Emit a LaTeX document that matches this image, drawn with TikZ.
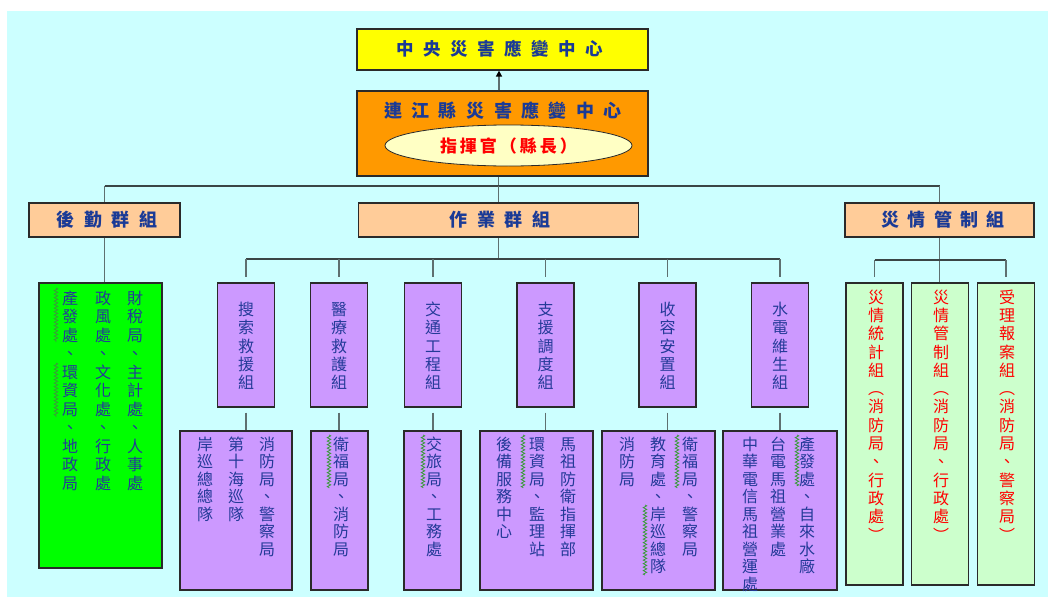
\documentclass[tikz,border=0pt]{standalone}
\usepackage{fontspec}
\newfontfamily\cjk{Noto Sans CJK TC}
\usetikzlibrary{decorations.pathmorphing,shapes.geometric,arrows.meta}
\definecolor{bgc}{HTML}{CCFFFF}
\definecolor{yellowc}{HTML}{FFFF00}
\definecolor{orangec}{HTML}{FF9900}
\definecolor{ellc}{HTML}{FFFFC4}
\definecolor{peachc}{HTML}{FFCC99}
\definecolor{greenc}{HTML}{00FF00}
\definecolor{purplec}{HTML}{CC99FF}
\definecolor{lgreenc}{HTML}{CCFFCC}
\definecolor{headblue}{HTML}{1A3A96}
\definecolor{bodyblue}{HTML}{243A98}
\definecolor{redc}{HTML}{FF0000}
\definecolor{boxline}{HTML}{2A2A2A}
\definecolor{connc}{HTML}{5E7070}
\definecolor{busc}{HTML}{3A4545}
\definecolor{squigc}{HTML}{3A9A3A}
\tikzset{
  box/.style={draw=boxline, line width=1.2pt, inner sep=0pt},
  vch/.style={anchor=base, inner sep=0pt, font=\cjk\fontsize{16}{16}\selectfont, text=bodyblue},
  redch/.style={text=redc},
  head/.style={font=\cjk\bfseries\fontsize{18}{18}\selectfont, text=headblue, inner sep=0pt},
  conn/.style={draw=connc, line width=1.8pt},
  busline/.style={draw=busc, line width=1.2pt},
  squig/.style={draw=squigc, line width=0.7pt, decorate, decoration={zigzag, segment length=3.5pt, amplitude=1.8pt}},
}
\newcommand\vcol[6][]{\foreach \ch [count=\i from 0] in {#6} {\node[vch,#1] (#2-\i) at (#3,{#4+\i*#5+6.1}) {\ch};}}
\newcommand\spread[2]{\foreach \c [count=\j] in {#2}{\ifnum\j>1\hspace{#1}\fi\c}}
\begin{document}
\begin{tikzpicture}[x=1pt,y=-1pt]
\useasboundingbox (0,0) rectangle (1050,597);
\fill[bgc] (7,11) rectangle (1048,597);

% top boxes
\node[box, fill=yellowc, minimum width=291, minimum height=41] (central) at (502.5,49.5) {};
\node[head, font=\cjk\bfseries\fontsize{17.5}{17.5}\selectfont] (centralT) at (500,49) {\spread{9.5pt}{中,央,災,害,應,變,中,心}};
\node[box, fill=orangec, minimum width=291, minimum height=85] (county) at (502.5,133.5) {};
\node[head] (countyT) at (503,111) {\spread{9.5pt}{連,江,縣,災,害,應,變,中,心}};
\node[ellipse, draw=boxline, line width=0.8pt, fill=ellc, minimum width=247, minimum height=41, inner sep=0pt,
      font=\cjk\bfseries\fontsize{17}{17}\selectfont, text=redc] (cmd) at (508.5,145.5) {\spread{3pt}{指,揮,官,（,縣,長,）}};

% group boxes
\node[box, fill=peachc, minimum width=151, minimum height=34] (g1) at (104.5,220) {};
\node[head] (g1T) at (107,219.5) {\spread{9.5pt}{後,勤,群,組}};
\node[box, fill=peachc, minimum width=280, minimum height=34] (g2) at (498.5,220) {};
\node[head] (g2T) at (500,219.5) {\spread{9.5pt}{作,業,群,組}};
\node[box, fill=peachc, minimum width=189, minimum height=34] (g3) at (939.5,220) {};
\node[head] (g3T) at (943,219.5) {\spread{8.5pt}{災,情,管,制,組}};

% logistics box
\node[box, fill=greenc, minimum width=123, minimum height=285] (lg) at (100.5,425.5) {};
% operation upper boxes
\foreach \n/\x in {u1/246,u2/339,u3/433,u4/545.5,u5/667.5,u6/780}
  \node[box, fill=purplec, minimum width=57, minimum height=124] (\n) at (\x,345) {};
% operation lower boxes
\foreach \n/\x/\w in {l1/236/112,l2/339.5/57,l3/432.5/57,l4/536.5/113,l5/658.5/113,l6/780/114}
  \node[box, fill=purplec, minimum width=\w, minimum height=159] (\n) at (\x,510.5) {};
% disaster control boxes
\foreach \n/\x in {r1/874.5,r2/940,r3/1006}
  \node[box, fill=lgreenc, minimum width=57, minimum height=302] (\n) at (\x,434) {};

% connectors
\draw[conn, draw=connc, -{Triangle[length=6pt,width=6pt,color=black]}] ([xshift=-3.5pt]county.north) -- ([xshift=-3.5pt]central.south);
\coordinate (b0) at (498.5,186);
\draw[conn] (county.south -| g2.north) -- (b0);
\draw[busline] (g1.north |- b0) -- (g3.north |- b0);
\draw[conn] (b0) -- (g2.north);
\draw[conn] (g1.north |- b0) -- (g1.north);
\draw[conn] (g3.north |- b0) -- (g3.north);
\draw[conn] (g1.south) -- (g1.south |- lg.north);

\coordinate (b1) at (498.5,259);
\draw[conn] (g2.south) -- (b1);
\draw[busline] (u1.north |- b1) -- (u6.north |- b1);
\foreach \k in {1,...,6}{
  \draw[conn, shorten >=5pt] (u\k.north |- b1) -- (u\k.north);
  \draw[conn, shorten <=5pt] (u\k.south) -- (u\k.south |- l\k.north);
}
\coordinate (b2) at (939.5,260);
\draw[conn] (g3.south) -- (g3.south |- r2.north);
\draw[busline] (r1.north |- b2) -- (r3.north |- b2);
\draw[conn, shorten >=5pt] (r1.north |- b2) -- (r1.north);
\draw[conn, shorten >=5pt] (r3.north |- b2) -- (r3.north);

% logistics text
\vcol{lgA}{135}{298}{18.5}{財,稅,局,、,主,計,處,、,人,事,處}
\vcol{lgB}{103}{298}{18.5}{政,風,處,、,文,化,處,、,行,政,處}
\vcol{lgC}{70}{298}{18.5}{產,發,處,、,環,資,局,、,地,政,局}
\draw[squig] (56,288) -- (56,342);
\draw[squig] (56,363) -- (56,417);

% upper texts
\vcol{u1t}{246}{309.5}{18.3}{搜,索,救,援,組}
\vcol{u2t}{339}{309.5}{18.3}{醫,療,救,護,組}
\vcol{u3t}{433}{309.5}{18.3}{交,通,工,程,組}
\vcol{u4t}{545.5}{309.5}{18.3}{支,援,調,度,組}
\vcol{u5t}{667.5}{309.5}{18.3}{收,容,安,置,組}
\vcol{u6t}{780}{309.5}{18.3}{水,電,維,生,組}

% lower texts
\vcol{l1a}{267}{444}{17.5}{消,防,局,、,警,察,局}
\vcol{l1b}{236}{444}{17.5}{第,十,海,巡,隊}
\vcol{l1c}{205}{444}{17.5}{岸,巡,總,總,隊}
\vcol{l2a}{341}{444}{17.5}{衛,福,局,、,消,防,局}
\draw[squig] (329,435) -- (329,488);
\vcol{l3a}{434}{444}{17.5}{交,旅,局,、,工,務,處}
\draw[squig] (423,435) -- (423,488);
\vcol{l4a}{568}{444}{17.5}{馬,祖,防,衛,指,揮,部}
\vcol{l4b}{537}{444}{17.5}{環,資,局,、,監,理,站}
\vcol{l4c}{504}{444}{17.5}{後,備,服,務,中,心}
\draw[squig] (523,435) -- (523,488);
\vcol{l5a}{690}{444}{17.5}{衛,福,局,、,警,察,局}
\vcol{l5b}{658}{444}{17.5}{教,育,處,、,岸,巡,總,隊}
\vcol{l5c}{627}{444}{17.5}{消,防,局}
\draw[squig] (677,435) -- (677,488);
\draw[squig] (645,505) -- (645,575);
\vcol{l6a}{807}{444}{17.5}{產,發,處,、,自,來,水,廠}
\vcol{l6b}{778}{444}{17.5}{台,電,馬,祖,營,業,處}
\vcol{l6c}{750}{444}{17.5}{中,華,電,信,馬,祖,營,運,處}
\draw[squig] (797,435) -- (797,486);

% disaster control texts
\vcol[redch]{r1t}{876}{297}{18.3}{災,情,統,計,組,︵,消,防,局,、,行,政,處,︶}
\vcol[redch]{r2t}{941}{297}{18.3}{災,情,管,制,組,︵,消,防,局,、,行,政,處,︶}
\vcol[redch]{r3t}{1007}{297}{18.3}{受,理,報,案,組,︵,消,防,局,、,警,察,局,︶}
\end{tikzpicture}
\end{document}
